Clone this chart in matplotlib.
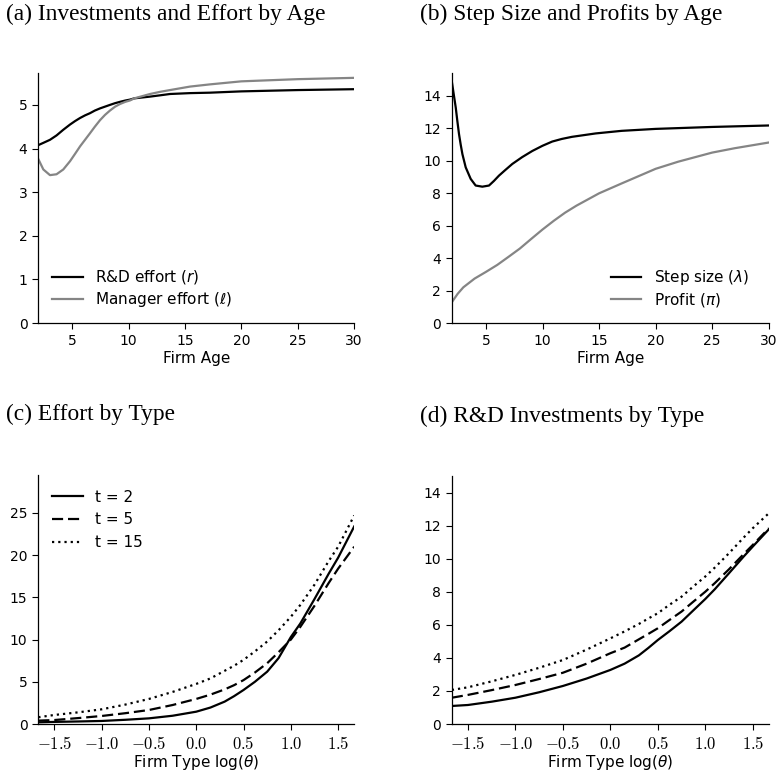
import numpy as np
import matplotlib
matplotlib.use('Agg')
import matplotlib.pyplot as plt

## Data ====================================================
# (a) investments and effort by age
age_a = np.array([2, 2.43, 3.02, 3.6, 4.2, 4.8, 5.25, 5.69, 6.13, 6.57, 7.0, 7.46, 7.9, 8.34,
                  8.8, 9.23, 9.7, 10.1, 10.5, 11.2, 11.9, 12.8, 13.67, 15.45, 17.2, 20, 25, 30])
rd_effort = np.array([4.08, 4.13, 4.2, 4.3, 4.43, 4.55, 4.63, 4.7, 4.76, 4.81, 4.87, 4.92, 4.96, 5.0,
                      5.04, 5.07, 5.1, 5.12, 5.15, 5.17, 5.19, 5.22, 5.25, 5.27, 5.28, 5.31, 5.34, 5.36])
mgr_effort = np.array([3.75, 3.52, 3.39, 3.41, 3.52, 3.71, 3.88, 4.05, 4.2, 4.35, 4.5, 4.65, 4.77, 4.87,
                       4.96, 5.02, 5.07, 5.1, 5.15, 5.2, 5.25, 5.3, 5.34, 5.42, 5.47, 5.54, 5.59, 5.62])

# (b) step size and profits by age
age_step = np.array([2, 2.15, 2.33, 2.47, 2.62, 2.77, 2.92, 3.21, 3.65, 4.09, 4.68, 5.27, 5.7,
                     6.15, 6.7, 7.33, 8.2, 9.1, 10.0, 10.86, 11.7, 12.6, 14.7, 17, 20, 25, 30])
step_size = np.array([14.8, 14.1, 13.27, 12.45, 11.63, 10.98, 10.4, 9.59, 8.88, 8.47, 8.4, 8.47, 8.75,
                      9.08, 9.42, 9.8, 10.22, 10.6, 10.92, 11.18, 11.34, 11.47, 11.68, 11.84, 11.96,
                      12.08, 12.17])
age_prof = np.array([2, 2.5, 3, 4, 5, 6, 7, 8, 9, 10, 11, 12, 13, 15, 17, 20, 22, 25, 27, 30])
profit = np.array([1.3, 1.8, 2.2, 2.74, 3.15, 3.58, 4.08, 4.59, 5.18, 5.76, 6.3, 6.8, 7.23,
                   7.99, 8.6, 9.5, 9.94, 10.5, 10.77, 11.12])

# (c) effort by type, (d) R&D by type
log_theta = np.array([-1.67, -1.5, -1.25, -1.0, -0.75, -0.5, -0.25, 0.0, 0.15, 0.3, 0.4, 0.5, 0.62,
                      0.75, 0.87, 1.0, 1.1, 1.25, 1.4, 1.5, 1.67])
effort_t2 = np.array([0.2, 0.25, 0.3, 0.36, 0.5, 0.67, 0.98, 1.46, 1.95, 2.65, 3.3, 4.03, 5.0,
                      6.2, 7.8, 10.3, 11.9, 14.8, 17.8, 19.7, 23.4])
effort_t5 = np.array([0.4, 0.47, 0.7, 0.95, 1.28, 1.66, 2.25, 2.97, 3.48, 4.1, 4.6, 5.2, 6.1,
                      7.2, 8.5, 10.0, 11.5, 14.0, 16.7, 18.4, 21.0])
effort_t15 = np.array([0.8, 1.07, 1.38, 1.74, 2.3, 2.97, 3.8, 4.75, 5.4, 6.3, 6.9, 7.6, 8.6,
                       9.77, 11.1, 12.7, 14.1, 16.5, 19.3, 21.0, 24.7])

rd_t2 = np.array([1.09, 1.15, 1.35, 1.59, 1.92, 2.3, 2.75, 3.27, 3.65, 4.15, 4.6, 5.08, 5.6,
                  6.19, 6.85, 7.56, 8.15, 9.12, 10.1, 10.73, 11.78])
rd_t5 = np.array([1.59, 1.76, 2.05, 2.36, 2.72, 3.1, 3.65, 4.28, 4.62, 5.12, 5.45, 5.79, 6.28,
                  6.8, 7.38, 8.0, 8.52, 9.36, 10.25, 10.83, 11.84])
rd_t15 = np.array([2.06, 2.22, 2.58, 2.97, 3.4, 3.87, 4.5, 5.18, 5.6, 6.05, 6.38, 6.7, 7.2,
                   7.7, 8.3, 8.92, 9.46, 10.33, 11.25, 11.84, 12.75])

type_ticks = [-1.5, -1.0, -0.5, 0.0, 0.5, 1.0, 1.5]
type_labels = [r'$-1.5$', r'$-1.0$', r'$-0.5$', r'$0.0$', r'$0.5$', r'$1.0$', r'$1.5$']

titles = ['(a) Investments and Effort by Age', '(b) Step Size and Profits by Age',
          '(c) Effort by Type', '(d) R&D Investments by Type']

## Figure ==================================================
plt.rcParams['font.size'] = 10
plt.rcParams['axes.labelsize'] = 11
plt.rcParams['axes.linewidth'] = 0.9
plt.rcParams['xtick.major.size'] = 4.5
plt.rcParams['ytick.major.size'] = 4.5

fig = plt.figure(figsize=(7.76, 7.78), dpi=100)
axa = fig.add_axes([0.0496, 0.5848, 0.4066, 0.3213])
axb = fig.add_axes([0.5825, 0.5848, 0.4081, 0.3213])
axc = fig.add_axes([0.0496, 0.0694, 0.4066, 0.3201])
axd = fig.add_axes([0.5825, 0.0694, 0.4081, 0.3188])

lw = 1.6
gray = '#858585'

axa.plot(age_a, rd_effort, color='black', lw=lw, label=r'R&D effort ($r$)')
axa.plot(age_a, mgr_effort, color=gray, lw=lw, label=r'Manager effort ($\ell$)')
axa.set_xlim(2, 30)
axa.set_ylim(0, 5.73)
axa.set_xticks([5, 10, 15, 20, 25, 30])
axa.set_yticks([0, 1, 2, 3, 4, 5])
axa.set_xlabel('Firm Age', labelpad=2)
axa.legend(loc='lower left', frameon=False, fontsize=11, labelspacing=0.25,
           bbox_to_anchor=(0.0, 0.0))

axb.plot(age_step, step_size, color='black', lw=lw, label=r'Step size ($\lambda$)')
axb.plot(age_prof, profit, color=gray, lw=lw, label=r'Profit ($\pi$)')
axb.set_xlim(2, 30)
axb.set_ylim(0, 15.4)
axb.set_xticks([5, 10, 15, 20, 25, 30])
axb.set_yticks(range(0, 15, 2))
axb.set_xlabel('Firm Age', labelpad=2)
axb.legend(loc='lower right', frameon=False, fontsize=11, labelspacing=0.25,
           bbox_to_anchor=(0.982, 0.0))

for ax, ys, top, yt in [(axc, (effort_t2, effort_t5, effort_t15), 29.5, range(0, 26, 5)),
                        (axd, (rd_t2, rd_t5, rd_t15), 15.0, range(0, 15, 2))]:
    ax.plot(log_theta, ys[0], color='black', lw=lw, ls='-', label='t = 2')
    ax.plot(log_theta, ys[1], color='black', lw=lw, ls=(0, (5, 2.2)), label='t = 5')
    ax.plot(log_theta, ys[2], color='black', lw=lw, ls=(0, (1, 1.8)), label='t = 15')
    ax.set_xlim(-1.668, 1.668)
    ax.set_ylim(0, top)
    ax.set_yticks(list(yt))
    ax.set_xticks(type_ticks)
    ax.set_xticklabels(type_labels)
    for t in ax.get_xticklabels():
        t.set_math_fontfamily('cm')
        t.set_fontsize(12)
    ax.set_xlabel(r'Firm Type $\log(\theta)$', labelpad=0)

axc.legend(loc='upper left', frameon=False, fontsize=11, bbox_to_anchor=(0.0, 0.996))

for ax in (axa, axb, axc, axd):
    ax.spines['top'].set_visible(False)
    ax.spines['right'].set_visible(False)

title_pos = [(0.008, 0.981), (0.541, 0.981), (0.008, 0.467), (0.541, 0.465)]
for (x, y), s in zip(title_pos, titles):
    fig.text(x, y, s, family='Liberation Serif', fontsize=16.8, va='center', ha='left')

plt.savefig('out.png', dpi=100)
